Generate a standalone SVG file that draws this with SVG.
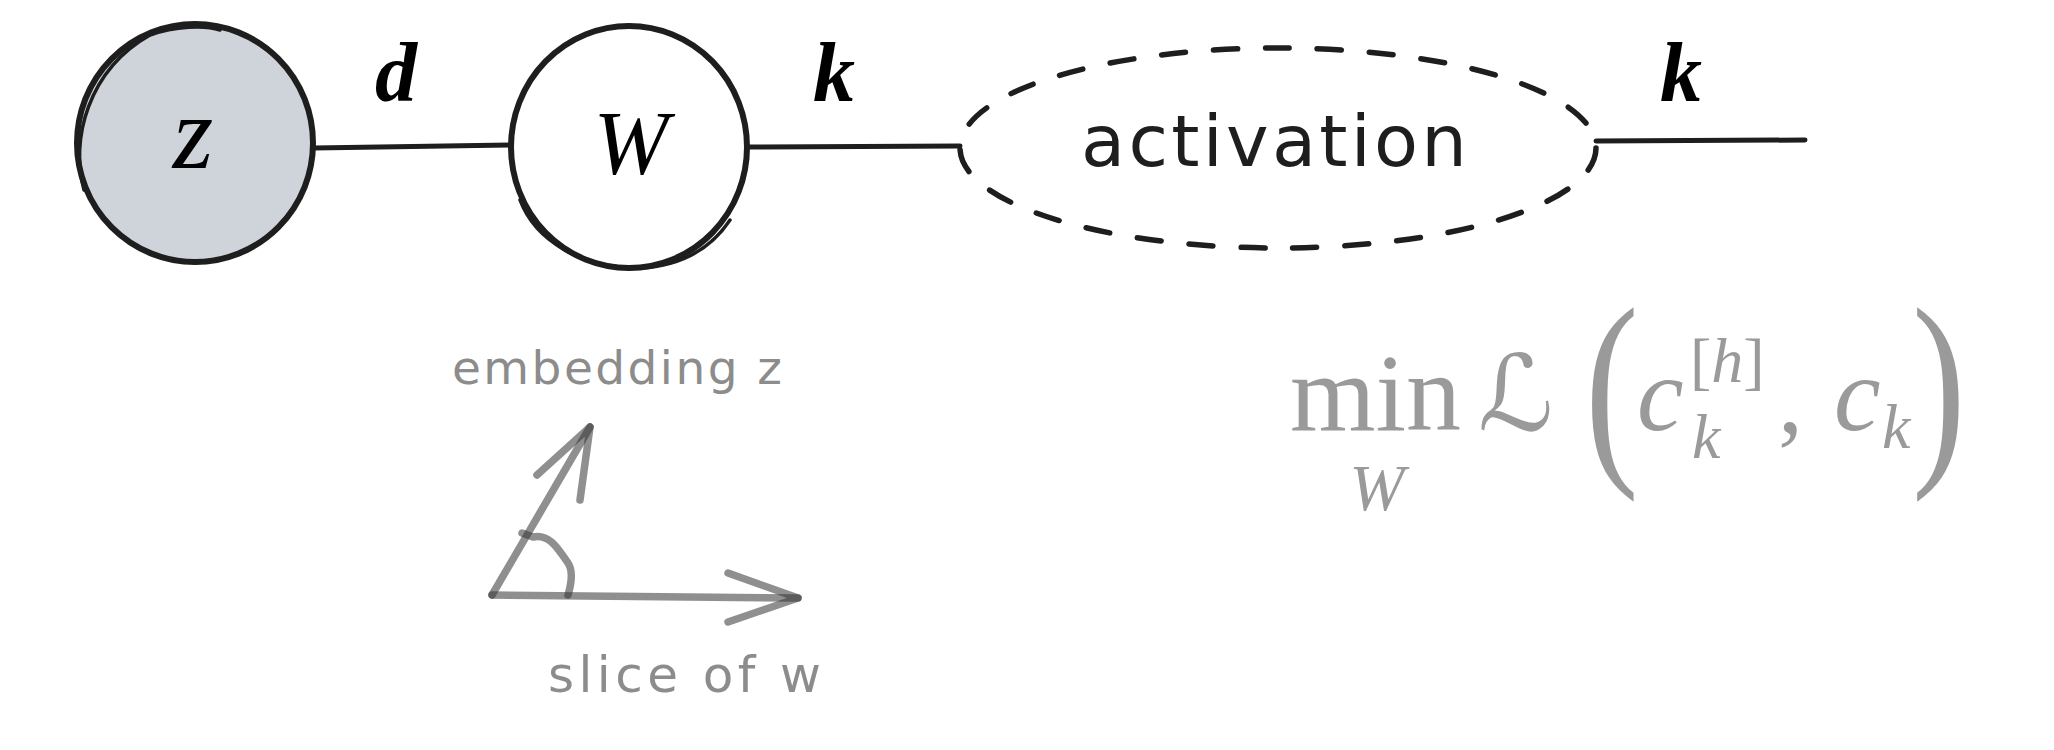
<svg xmlns="http://www.w3.org/2000/svg" width="2054" height="750" viewBox="0 0 2054 750">
<style>
.node{stroke:#1e1e1e;stroke-width:6}
.wob{stroke:#1e1e1e;stroke-width:3.5;fill:none;stroke-linecap:round}
.edge{stroke:#1e1e1e;stroke-width:5;fill:none;stroke-linecap:round}
.dash{stroke:#1e1e1e;stroke-width:5.5;fill:none;stroke-linecap:round;stroke-dasharray:24 28}
.math{font-family:"Liberation Serif",serif;font-style:italic;fill:#000}
.bold{font-weight:bold}
.hand{font-family:"DejaVu Sans",sans-serif}
.gray{fill:#8c8c8c}
.formula{fill:#9a9a9a;font-family:"Liberation Serif",serif}
.sketch{stroke:#333;stroke-opacity:.55;stroke-width:7.5;fill:none;stroke-linecap:round;stroke-linejoin:round}
</style>
<rect width="2054" height="750" fill="#fff"/>

<g id="connectors">
  <path class="edge" d="M314 148 L511 145"/>
  <path class="edge" d="M747 147 L960 146"/>
  <path class="edge" d="M1596 141 L1805 140"/>
  <text class="math bold" x="396" y="101" font-size="84" text-anchor="middle">d</text>
  <text class="math bold" x="834" y="101" font-size="84" text-anchor="middle">k</text>
  <text class="math bold" x="1681" y="101" font-size="84" text-anchor="middle">k</text>
</g>

<g id="node-z">
  <ellipse class="node" cx="195" cy="143" rx="118" ry="119" fill="#ced4da"/>
  <path class="wob" d="M84 190 C 70 140 88 70 150 35 C 175 26 205 25 220 30"/>
  <text class="math" x="193" y="168" font-size="104" text-anchor="middle">z</text>
</g>

<g id="node-W">
  <ellipse class="node" cx="629" cy="147" rx="118" ry="121" fill="#fff"/>
  <path class="wob" d="M520 200 C 535 240 580 268 640 268 C 680 266 710 250 730 220"/>
  <text class="math" x="631" y="174" font-size="90" text-anchor="middle">W</text>
</g>

<g id="node-activation">
  <ellipse class="dash" cx="1278" cy="148" rx="318" ry="100"/>
  <text class="hand" x="1081" y="166" font-size="72" textLength="386" lengthAdjust="spacing" fill="#1e1e1e">activation</text>
</g>

<g id="vectors">
  <path class="sketch" d="M492 595 L590 427"/>
  <path class="sketch" d="M537 475 L590 427 L580 500"/>
  <path class="sketch" d="M492 595 L798 598"/>
  <path class="sketch" d="M728 573 L798 598 L728 622"/>
  <path class="sketch" d="M522 533 L533 537 C 548 534 556 545 568 563 C 574 572 571 585 568 595"/>
  <text class="hand gray" x="452" y="384" font-size="47" textLength="330" lengthAdjust="spacing">embedding z</text>
  <text class="hand gray" x="548" y="692" font-size="50" textLength="273" lengthAdjust="spacing">slice of w</text>
</g>

<g id="formula" class="formula">
  <text x="1290" y="430" font-size="110">min</text>
  <text x="1377" y="510" font-size="66" font-style="italic" text-anchor="middle">W</text>
  <text x="1478" y="430" font-size="105" font-family="DejaVu Serif, DejaVu Sans, serif" font-style="italic">ℒ</text>
  <text transform="translate(1585,456) scale(0.75,1)" font-size="215">(</text>
  <text x="1637" y="430" font-size="105" font-style="italic">c</text>
  <text x="1690" y="382" font-size="64"><tspan>[</tspan><tspan font-style="italic">h</tspan><tspan>]</tspan></text>
  <text x="1692" y="458" font-size="64" font-style="italic">k</text>
  <text x="1778" y="432" font-size="100">,</text>
  <text x="1834" y="430" font-size="105" font-style="italic">c</text>
  <text x="1882" y="448" font-size="64" font-style="italic">k</text>
  <text transform="translate(1912,456) scale(0.75,1)" font-size="215">)</text>
</g>
</svg>
